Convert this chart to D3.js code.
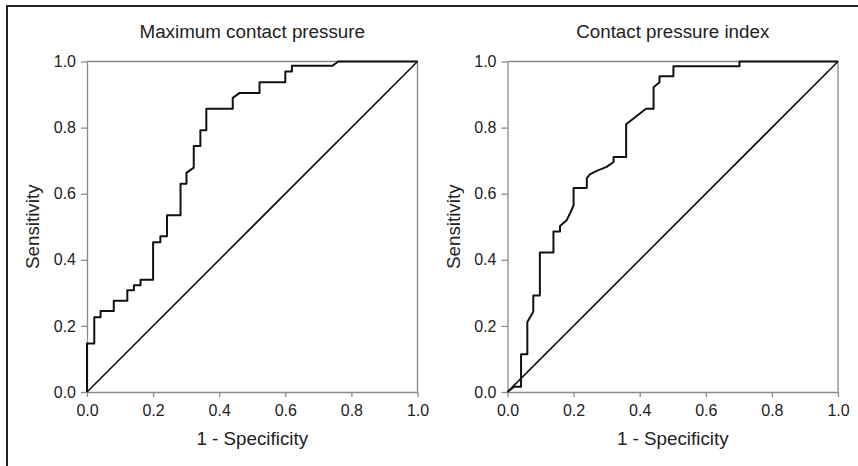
<html>
<head>
<script src="https://d3js.org/d3.v7.min.js"></script>
<style>
body { margin: 0; background: #fff; }
svg { display: block; font-family: 'Liberation Sans', Arial, sans-serif; }
</style>
</head>
<body>
<div id="chart"></div>
<script>
// ROC curve, (1 - specificity, sensitivity)
var titles = ["Maximum contact pressure", "Contact pressure index"];
var tickValues = [0, 0.2, 0.4, 0.6, 0.8, 1.0];

var maxFpr = [0, 0, 0.022, 0.022, 0.041, 0.041, 0.081, 0.081, 0.122, 0.122, 0.142, 0.142, 0.162, 0.162,
  0.200, 0.200, 0.222, 0.222, 0.242, 0.242, 0.283, 0.283, 0.301, 0.301, 0.323, 0.323, 0.343, 0.343,
  0.361, 0.361, 0.441, 0.441, 0.462, 0.522, 0.522, 0.600, 0.600, 0.620, 0.620, 0.743, 0.760, 1];
var maxTpr = [0, 0.147, 0.147, 0.226, 0.226, 0.245, 0.245, 0.276, 0.276, 0.308, 0.308, 0.323, 0.323, 0.340,
  0.340, 0.453, 0.453, 0.471, 0.471, 0.535, 0.535, 0.630, 0.630, 0.663, 0.679, 0.744, 0.744, 0.792,
  0.792, 0.857, 0.857, 0.890, 0.905, 0.905, 0.937, 0.937, 0.970, 0.970, 0.987, 0.987, 1.0, 1.0];

var cpiFpr = [0, 0.020, 0.041, 0.041, 0.060, 0.060, 0.078, 0.078, 0.098, 0.098, 0.139, 0.139, 0.159, 0.159,
  0.179, 0.189, 0.200, 0.200, 0.240, 0.240, 0.250, 0.270, 0.300, 0.321, 0.321, 0.359, 0.359, 0.419,
  0.442, 0.442, 0.460, 0.460, 0.502, 0.502, 0.702, 0.702, 1];
var cpiTpr = [0, 0.016, 0.016, 0.114, 0.114, 0.212, 0.243, 0.292, 0.292, 0.422, 0.422, 0.486, 0.486, 0.502,
  0.520, 0.540, 0.565, 0.617, 0.617, 0.647, 0.659, 0.669, 0.681, 0.696, 0.711, 0.711, 0.810, 0.857,
  0.857, 0.922, 0.937, 0.955, 0.955, 0.986, 0.986, 1.0, 1.0];

var curves = [
  d3.zip(maxFpr, maxTpr),
  d3.zip(cpiFpr, cpiTpr)
];

var svg = d3.select("#chart").append("svg")
  .attr("width", 858)
  .attr("height", 466);

// outer frame (only top and left edges are inside the picture)
svg.append("rect")
  .attr("x", 7).attr("y", 6)
  .attr("width", 900).attr("height", 500)
  .attr("fill", "none")
  .attr("stroke", "#222")
  .attr("stroke-width", 2);

var panelLeft = [87, 507.5],
    plotSize = 330.5,
    plotTop = 61.5;

var y = d3.scaleLinear().domain([0, 1]).range([plotTop + plotSize, plotTop]);

panelLeft.forEach(function(left, i) {
  var x = d3.scaleLinear().domain([0, 1]).range([left, left + plotSize]);
  var g = svg.append("g");

  // top and right edges of the plot box
  g.append("path")
    .attr("d", "M" + x(0) + "," + y(1) + "H" + x(1) + "V" + y(0))
    .attr("fill", "none")
    .attr("stroke", "#8a8a8a")
    .attr("stroke-width", 1.3);

  var xAxis = g.append("g")
    .attr("transform", "translate(0," + y(0) + ")")
    .call(d3.axisBottom(x).tickValues(tickValues).tickFormat(d3.format(".1f"))
      .tickSize(5).tickSizeOuter(0).tickPadding(8));

  var yAxis = g.append("g")
    .attr("transform", "translate(" + x(0) + ",0)")
    .call(d3.axisLeft(y).tickValues(tickValues).tickFormat(d3.format(".1f"))
      .tickSize(6).tickSizeOuter(0).tickPadding(5));

  [xAxis, yAxis].forEach(function(a) {
    a.selectAll("path, line").attr("stroke", "#8a8a8a").attr("stroke-width", 1.3);
    a.selectAll("text").attr("fill", "#222").style("font-size", "16px")
      .style("font-family", "'Liberation Sans', Arial, sans-serif");
  });

  // reference diagonal
  g.append("line")
    .attr("x1", x(0)).attr("y1", y(0))
    .attr("x2", x(1)).attr("y2", y(1))
    .attr("stroke", "#111")
    .attr("stroke-width", 1.6);

  var line = d3.line()
    .x(function(d) { return x(d[0]); })
    .y(function(d) { return y(d[1]); });

  g.append("path")
    .datum(curves[i])
    .attr("fill", "none")
    .attr("stroke", "#111")
    .attr("stroke-width", 2)
    .attr("stroke-linejoin", "round")
    .attr("d", line);

  // title
  g.append("text")
    .attr("x", x(0.5)).attr("y", 38)
    .attr("text-anchor", "middle")
    .attr("fill", "#222")
    .style("font-size", "18.8px")
    .text(titles[i]);

  // x label
  g.append("text")
    .attr("x", x(0.5)).attr("y", 445)
    .attr("text-anchor", "middle")
    .attr("fill", "#222")
    .style("font-size", "18.8px")
    .text("1 - Specificity");

  // y label
  g.append("text")
    .attr("text-anchor", "middle")
    .attr("fill", "#222")
    .style("font-size", "18.8px")
    .attr("transform", "translate(" + (x(0) - 48) + "," + y(0.5) + ")rotate(-90)")
    .text("Sensitivity");
});
</script>
</body>
</html>
